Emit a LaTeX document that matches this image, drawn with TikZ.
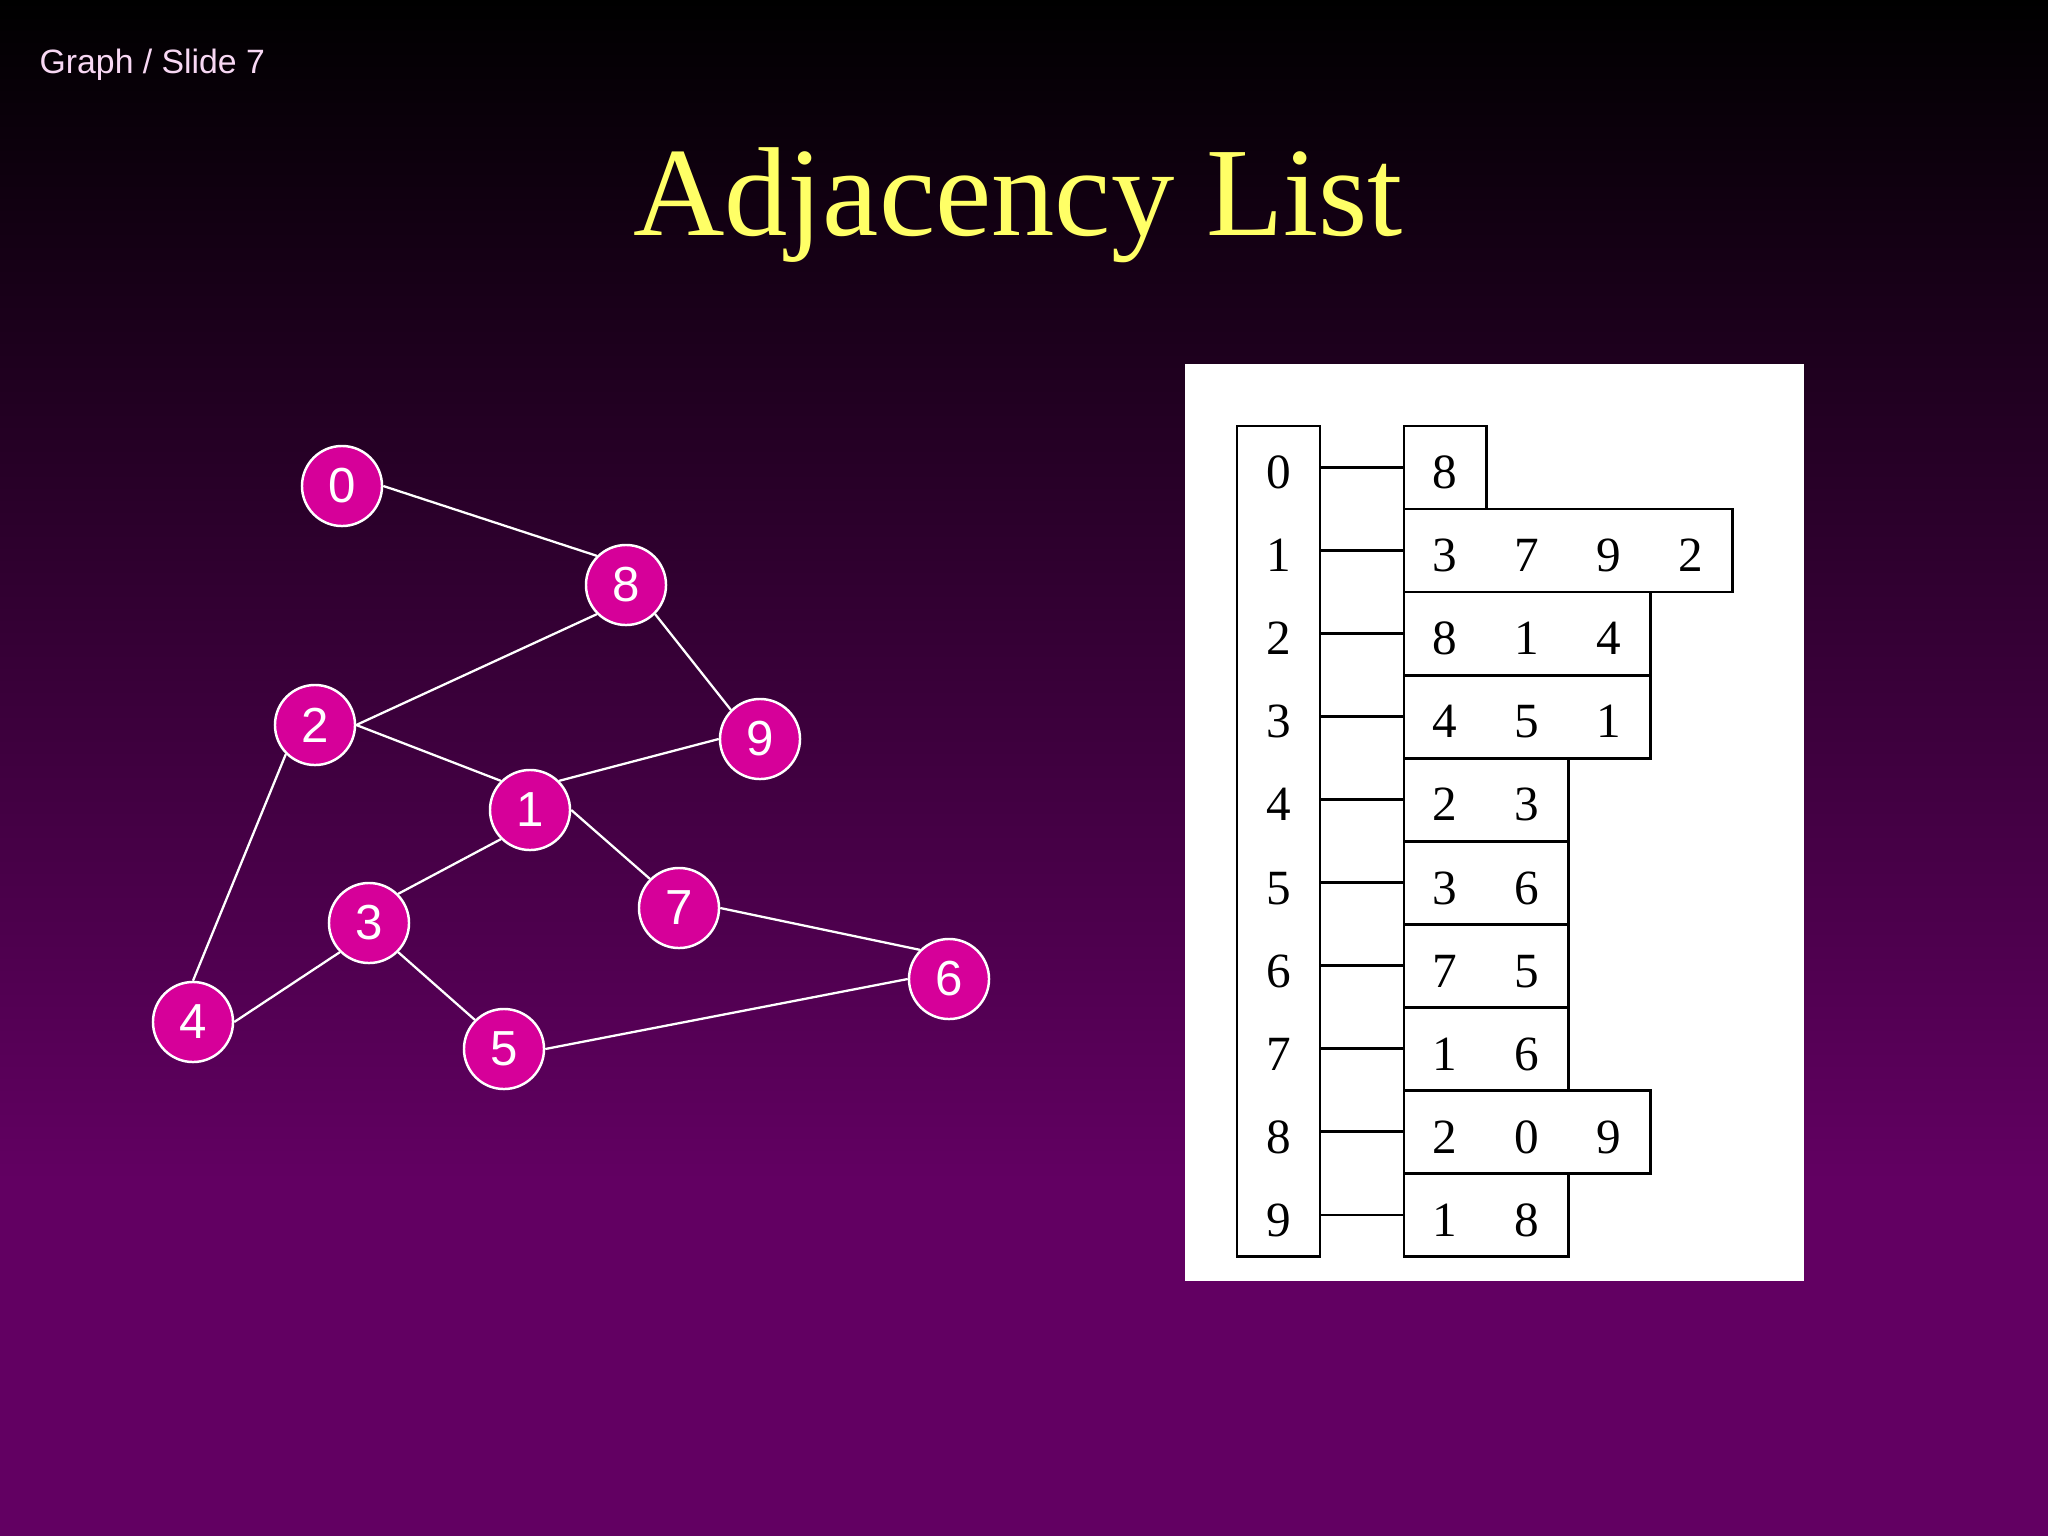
\documentclass[tikz,border=0pt]{standalone}
\usepackage{fontspec}
\setmainfont{Liberation Serif}
\setsansfont{Liberation Sans}
\definecolor{SlideBlack}{HTML}{000000}
\definecolor{SlidePurple}{HTML}{620062}
\definecolor{SlideYellow}{HTML}{FFFF66}
\definecolor{SlidePink}{HTML}{F8D8F4}
\definecolor{VertexMagenta}{HTML}{D60099}
\usetikzlibrary{positioning,fit}
\newcommand{\adjgap}{\hspace{0.574cm}}
\tikzset{
    % Graph on the left
    vertex/.style={
        circle,
        draw=white,
        line width=0.7pt,
        fill=VertexMagenta,
        text=white,
        minimum size=0.8cm,
        inner sep=0pt,
        font=\sffamily\fontsize{14}{14}\selectfont
    },
    edge/.style={
        draw=white,
        line width=0.65pt
    },
    % Adjacency list on the right
    index/.style={
        minimum width=0.83cm,
        minimum height=0.83cm,
        inner sep=0pt,
        outer sep=0pt,
        text height=12.1pt,
        text depth=0pt,
        font=\fontsize{14}{14}\selectfont
    },
    index frame/.style={
        draw=SlideBlack,
        line width=0.8pt,
        inner sep=0pt
    },
    list/.style={
        draw=SlideBlack,
        line width=0.8pt,
        minimum width=#1*0.82cm,
        minimum height=0.83cm,
        inner sep=0pt,
        outer sep=0pt,
        text height=12.1pt,
        text depth=0pt,
        font=\fontsize{14}{14}\selectfont
    },
    link/.style={
        draw=SlideBlack,
        line width=0.8pt
    }
}

\begin{document}
\begin{tikzpicture}[x=0.01cm, y=-0.01cm]
        % Background
        \useasboundingbox (0,0) rectangle (2048,1536);
        \shade[top color=SlideBlack, bottom color=SlidePurple] (0,0) rectangle (2048,1181);
        \fill[SlidePurple] (0,1180) rectangle (2048,1536);

        % Titles
        \node[anchor=base west, inner sep=0pt, text=SlidePink, font=\sffamily\fontsize{9.6}{10}\selectfont] (header) at (39,73) {Graph / Slide 7};
        \node[anchor=base, text=SlideYellow, font=\fontsize{36}{36}\selectfont] (title) at (1018,235) {Adjacency List};

        % Vertices
        \node[vertex] (v0) at (342,486) {0};
        \node[vertex] (v8) at (626,585) {8};
        \node[vertex] (v2) at (315,725) {2};
        \node[vertex] (v9) at (760,739) {9};
        \node[vertex] (v1) at (530,810) {1};
        \node[vertex] (v3) at (369,923) {3};
        \node[vertex] (v7) at (679,908) {7};
        \node[vertex] (v6) at (949,979) {6};
        \node[vertex] (v4) at (193,1022) {4};
        \node[vertex] (v5) at (504,1049) {5};

        % Edges (joined at the connection points of the circles)
        \draw[edge] (v0.0) -- (v8.135);
        \draw[edge] (v8.225) -- (v2.0);
        \draw[edge] (v8.315) -- (v9.135);
        \draw[edge] (v2.0) -- (v1.135);
        \draw[edge] (v1.45) -- (v9.180);
        \draw[edge] (v2.225) -- (v4.90);
        \draw[edge] (v1.225) -- (v3.45);
        \draw[edge] (v1.0) -- (v7.135);
        \draw[edge] (v3.225) -- (v4.0);
        \draw[edge] (v3.315) -- (v5.135);
        \draw[edge] (v7.0) -- (v6.135);
        \draw[edge] (v5.0) -- (v6.180);

        % Panel
        \fill[white] (1185,364) rectangle (1804,1281);

        % Index column
        \node[index] (i0) at (1278.5,467.5) {0};
        \node[index, below=0pt of i0] (i1) {1};
        \node[index, below=0pt of i1] (i2) {2};
        \node[index, below=0pt of i2] (i3) {3};
        \node[index, below=0pt of i3] (i4) {4};
        \node[index, below=0pt of i4] (i5) {5};
        \node[index, below=0pt of i5] (i6) {6};
        \node[index, below=0pt of i6] (i7) {7};
        \node[index, below=0pt of i7] (i8) {8};
        \node[index, below=0pt of i8] (i9) {9};
        \node[index frame, fit=(i0)(i9)] (column) {};

        % Lists
        \node[list=1, right=0.84cm of i0] (l0) {8};
        \node[list=4, right=0.84cm of i1] (l1) {3\adjgap 7\adjgap 9\adjgap 2};
        \node[list=3, right=0.84cm of i2] (l2) {8\adjgap 1\adjgap 4};
        \node[list=3, right=0.84cm of i3] (l3) {4\adjgap 5\adjgap 1};
        \node[list=2, right=0.84cm of i4] (l4) {2\adjgap 3};
        \node[list=2, right=0.84cm of i5] (l5) {3\adjgap 6};
        \node[list=2, right=0.84cm of i6] (l6) {7\adjgap 5};
        \node[list=2, right=0.84cm of i7] (l7) {1\adjgap 6};
        \node[list=3, right=0.84cm of i8] (l8) {2\adjgap 0\adjgap 9};
        \node[list=2, right=0.84cm of i9] (l9) {1\adjgap 8};

        % Links
        \draw[link] (i0.east) -- (l0.west);
        \draw[link] (i1.east) -- (l1.west);
        \draw[link] (i2.east) -- (l2.west);
        \draw[link] (i3.east) -- (l3.west);
        \draw[link] (i4.east) -- (l4.west);
        \draw[link] (i5.east) -- (l5.west);
        \draw[link] (i6.east) -- (l6.west);
        \draw[link] (i7.east) -- (l7.west);
        \draw[link] (i8.east) -- (l8.west);
        \draw[link] (i9.east) -- (l9.west);
    \end{tikzpicture}
\end{document}
